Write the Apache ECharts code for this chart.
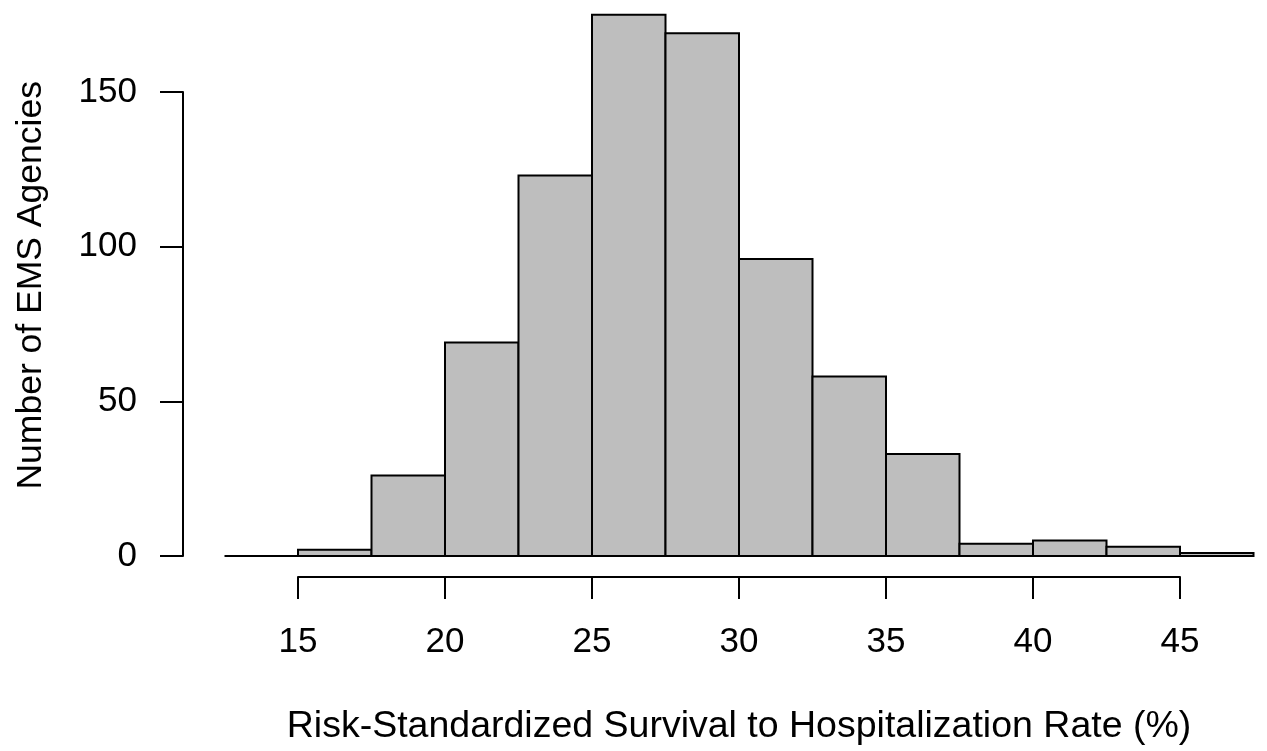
<!DOCTYPE html>
<html>
<head>
<meta charset="utf-8">
<script src="https://cdn.jsdelivr.net/npm/echarts@6/dist/echarts.min.js"></script>
<style>html,body{margin:0;padding:0;background:#fff;}#c{width:1267px;height:751px;}</style>
</head>
<body>
<div id="c"></div>
<script>
// Histogram bin edges and counts
const binEdges = [12.5, 15, 17.5, 20, 22.5, 25, 27.5, 30, 32.5, 35, 37.5, 40, 42.5, 45, 47.5];
const counts = [0, 2, 26, 69, 123, 175, 169, 96, 58, 33, 4, 5, 3, 1];
const xTicks = [15, 20, 25, 30, 35, 40, 45];
const yTicks = [0, 50, 100, 150];
const xTitle = 'Risk-Standardized Survival to Hospitalization Rate (%)';
const yTitle = 'Number of EMS Agencies';

const FONT = '"Liberation Sans", Arial, Helvetica, sans-serif';
const data = counts.map((c, i) => [binEdges[i], binEdges[i + 1], c]);
const LW = 2;

const chart = echarts.init(document.getElementById('c'), null, {renderer: 'canvas'});
chart.setOption({
  backgroundColor: '#ffffff',
  animation: false,
  grid: [
    {left: 224.5, right: 13.5, top: 556 - 175 * 464 / 150, bottom: 195, show: false, containLabel: false, outerBoundsMode: 'none'},
    {left: 298, right: 87, top: 92, bottom: 195, show: false, containLabel: false, outerBoundsMode: 'none'}
  ],
  xAxis: [
    {
      gridIndex: 0, type: 'value', min: binEdges[0], max: binEdges[binEdges.length - 1],
      axisLine: {show: false}, axisTick: {show: false}, axisLabel: {show: false}, splitLine: {show: false},
      name: xTitle, nameLocation: 'middle', nameGap: 152,
      nameTextStyle: {color: '#000', fontSize: 37.5, fontFamily: FONT}
    },
    {
      gridIndex: 1, type: 'value', min: xTicks[0], max: xTicks[xTicks.length - 1], interval: 5,
      offset: 21,
      axisLine: {show: true, onZero: false, lineStyle: {color: '#000', width: LW}},
      axisTick: {show: true, length: 22, lineStyle: {color: '#000', width: LW}},
      axisLabel: {margin: 48, color: '#000', fontSize: 35, fontFamily: FONT},
      splitLine: {show: false}
    }
  ],
  yAxis: [
    {
      gridIndex: 0, type: 'value', min: 0, max: 175,
      axisLine: {show: false}, axisTick: {show: false}, axisLabel: {show: false}, splitLine: {show: false},
      name: yTitle, nameLocation: 'middle', nameGap: 175,
      nameTextStyle: {color: '#000', fontSize: 35.5, fontFamily: FONT}
    },
    {
      gridIndex: 1, type: 'value', min: yTicks[0], max: yTicks[yTicks.length - 1], interval: 50,
      offset: 115,
      axisLine: {show: true, onZero: false, lineStyle: {color: '#000', width: LW}},
      axisTick: {show: true, length: 23, lineStyle: {color: '#000', width: LW}},
      axisLabel: {margin: 46, color: '#000', fontSize: 35, fontFamily: FONT},
      splitLine: {show: false}
    }
  ],
  series: [{
    type: 'custom',
    xAxisIndex: 0, yAxisIndex: 0,
    clip: false,
    data: data,
    renderItem: function (params, api) {
      const p0 = api.coord([api.value(0), api.value(2)]);
      const p1 = api.coord([api.value(1), 0]);
      return {
        type: 'rect',
        shape: {x: p0[0], y: p0[1], width: p1[0] - p0[0], height: p1[1] - p0[1]},
        style: {fill: '#bebebe', stroke: '#000', lineWidth: LW}
      };
    }
  }]
});
</script>
</body>
</html>
